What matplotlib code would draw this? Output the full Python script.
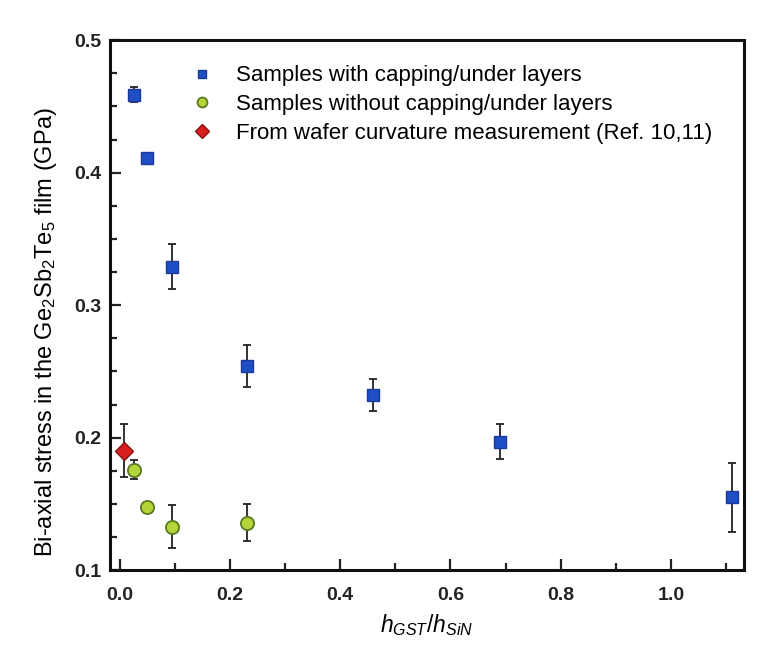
import matplotlib
matplotlib.use('Agg')
import matplotlib.pyplot as plt
from matplotlib.ticker import MultipleLocator

plt.rcParams['font.family'] = ['Liberation Sans', 'DejaVu Sans']
plt.rcParams['mathtext.fontset'] = 'custom'
plt.rcParams['mathtext.it'] = 'Liberation Sans:italic'
plt.rcParams['mathtext.rm'] = 'Liberation Sans'

# datos
x_cap = [0.025, 0.05, 0.095, 0.23, 0.46, 0.69, 1.11]
y_cap = [0.459, 0.411, 0.329, 0.254, 0.232, 0.197, 0.155]
e_cap = [0.006, 0.0, 0.017, 0.016, 0.012, 0.013, 0.026]

x_nocap = [0.025, 0.05, 0.095, 0.23]
y_nocap = [0.176, 0.148, 0.133, 0.136]
e_nocap = [0.007, 0.0, 0.016, 0.014]

x_wafer = [0.008]
y_wafer = [0.190]
e_wafer = [0.020]

labels = ['Samples with capping/under layers',
          'Samples without capping/under layers',
          'From wafer curvature measurement (Ref. 10,11)']

fig = plt.figure(figsize=(7.68, 6.48), dpi=100)
ax = fig.add_axes([0.143, 0.120, 0.826, 0.818])

ax.errorbar(x_cap, y_cap, yerr=e_cap, fmt='s', color='#1f4fc4', mec='#1a3a9a',
            ms=8.5, ecolor='#222222', elinewidth=1.3, capsize=3, capthick=1.3,
            label=labels[0])
ax.errorbar(x_nocap, y_nocap, yerr=e_nocap, fmt='o', color='#b5d43a', mec='#5a7a20',
            ms=9.5, mew=1.3, ecolor='#222222', elinewidth=1.3, capsize=3, capthick=1.3,
            label=labels[1])
ax.errorbar(x_wafer, y_wafer, yerr=e_wafer, fmt='D', color='#d81e1e', mec='#8a1010',
            ms=9, ecolor='#222222', elinewidth=1.3, capsize=3, capthick=1.3,
            label=labels[2])

ax.set_xlim(-0.018, 1.133)
ax.set_ylim(0.1, 0.5)
ax.xaxis.set_major_locator(MultipleLocator(0.2))
ax.xaxis.set_minor_locator(MultipleLocator(0.1))
ax.yaxis.set_major_locator(MultipleLocator(0.1))
ax.yaxis.set_minor_locator(MultipleLocator(0.025))
ax.xaxis.set_major_formatter(plt.FuncFormatter(lambda v, p: f'{v:.1f}'))
ax.yaxis.set_major_formatter(plt.FuncFormatter(lambda v, p: f'{v:.1f}'))
ax.tick_params(which='both', direction='in', width=1.6, labelsize=14, colors='#222222')
ax.tick_params(which='major', length=8, pad=6)
ax.tick_params(axis='x', which='major', pad=12)
ax.tick_params(which='minor', length=5)
for t in ax.get_xticklabels() + ax.get_yticklabels():
    t.set_fontweight('bold')
for s in ax.spines.values():
    s.set_linewidth(2.2)
    s.set_color('#111111')

ax.set_xlabel('$h_{GST}/h_{SiN}$', fontsize=16.5, labelpad=6)
ax.set_ylabel('Bi-axial stress in the Ge$_2$Sb$_2$Te$_5$ film (GPa)', fontsize=17)
ax.yaxis.set_label_coords(-0.08, 0.45)

handles, labs = ax.get_legend_handles_labels()
handles = [h[0] for h in handles]
ax.legend(handles, labs, loc='upper left', bbox_to_anchor=(0.09, 0.99), frameon=False,
          fontsize=16, handletextpad=0.8, labelspacing=0.35, markerscale=0.75,
          handlelength=1.4)

fig.savefig('out.png', dpi=100)
